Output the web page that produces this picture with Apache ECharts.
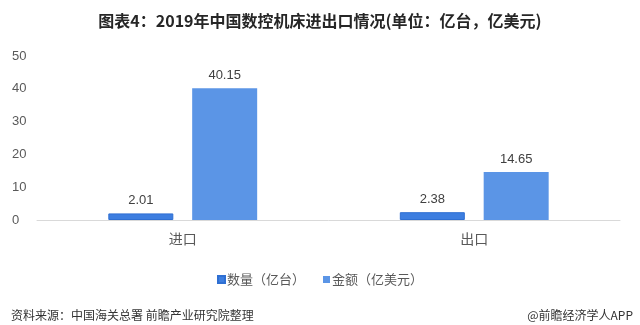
<!DOCTYPE html>
<html>
<head>
<meta charset="utf-8">
<script src="https://cdn.jsdelivr.net/npm/echarts@6/dist/echarts.min.js"></script>
<style>
html,body{margin:0;padding:0;background:#fff;}
#c{width:640px;height:325px;}
</style>
</head>
<body>
<div id="c"></div>
<script>
var categories = ['进口', '出口'];
var seriesNames = ['数量（亿台）', '金额（亿美元）'];
var quantity = [2.01, 2.38];
var amount = [40.15, 14.65];
var yTicks = [0, 10, 20, 30, 40, 50];

var chart = echarts.init(document.getElementById('c'));
var labelStyle = {show: true, position: 'top', color: '#404040', fontSize: 13, distance: 6,
  fontFamily: 'Liberation Sans, Arial, sans-serif'};
chart.setOption({
  animation: false,
  title: [{
    text: '图表4：2019年中国数控机床进出口情况(单位：亿台，亿美元)',
    left: 'center', top: 8,
    textStyle: {fontSize: 16, fontWeight: 'bold', color: '#262626',
      fontFamily: '"Noto Sans CJK SC", sans-serif'}
  }, {
    text: '资料来源：中国海关总署 前瞻产业研究院整理',
    left: 6, top: 304,
    textStyle: {fontSize: 12, fontWeight: 'normal', color: '#333',
      fontFamily: '"Noto Sans CJK SC", sans-serif'}
  }, {
    text: '@前瞻经济学人APP',
    right: 2, top: 304,
    textStyle: {fontSize: 12, fontWeight: 'normal', color: '#333',
      fontFamily: '"Noto Sans CJK SC", sans-serif'}
  }],
  legend: {
    data: seriesNames,
    bottom: 34, left: 'center',
    icon: 'rect', itemWidth: 7, itemHeight: 7, itemGap: 18,
    textStyle: {color: '#595959', fontSize: 13, fontFamily: '"Noto Sans CJK SC", sans-serif', padding: [0,0,0,-3]}
  },
  grid: {left: 37, right: 20, top: 56, bottom: 105, containLabel: false},
  xAxis: {
    type: 'category', data: categories,
    axisLine: {lineStyle: {color: '#d9d9d9'}},
    axisTick: {show: false},
    axisLabel: {color: '#595959', fontSize: 14, margin: 12, fontFamily: '"Noto Sans CJK SC", sans-serif'}
  },
  yAxis: {
    type: 'value', min: 0, max: 50, interval: 10,
    axisLine: {show: false}, axisTick: {show: false},
    splitLine: {show: false},
    axisLabel: {color: '#595959', fontSize: 13, margin: 25, align: 'left',
      fontFamily: 'Liberation Sans, Arial, sans-serif',
      formatter: function(v){ return yTicks.indexOf(v) >= 0 ? String(v) : ''; }}
  },
  series: [{
    name: seriesNames[0], type: 'bar', data: quantity,
    barWidth: 65, barGap: '29%',
    itemStyle: {color: '#3d7ee0', borderColor: '#2f6fd2', borderWidth: 1},
    label: labelStyle
  }, {
    name: seriesNames[1], type: 'bar', data: amount,
    barWidth: 65,
    itemStyle: {color: '#5b95e6'},
    label: labelStyle
  }]
});
</script>
</body>
</html>
